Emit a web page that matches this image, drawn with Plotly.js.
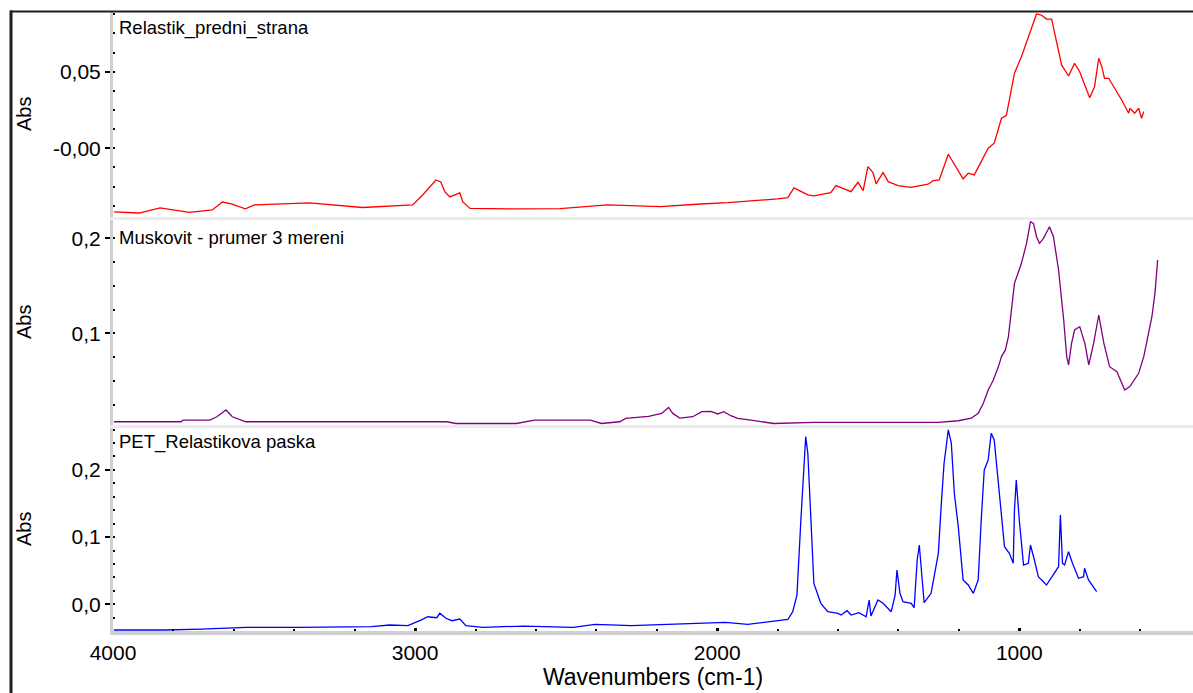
<!DOCTYPE html>
<html>
<head>
<meta charset="utf-8">
<script src="https://cdn.plot.ly/plotly-3.0.1.min.js"></script>
<style>html,body{margin:0;padding:0;background:#fff;}#chart{width:1193px;height:693px;}</style>
</head>
<body>
<div id="chart"></div>
<script>
// ---- Data ----
const seriesNames = ["Relastik_predni_strana", "Muskovit - prumer 3 mereni", "PET_Relastikova paska"];

const redWn = [3997,3914,3844,3748,3671,3638,3608,3562,3532,3349,3174,3008,2975,2951,2931,2915,2901,2885,2862,2852,2842,2818,2653,2520,2364,2188,2055,1965,1800,1766,1746,1700,1680,1624,1607,1580,1557,1534,1517,1501,1484,1474,1451,1434,1401,1358,1302,1285,1265,1235,1215,1186,1169,1149,1103,1083,1059,1043,1033,1016,993,960,943,927,910,893,883,860,837,817,800,767,751,737,727,718,704,684,661,638,634,618,605,595,588];
const redAbs = [-0.0416,-0.0423,-0.0390,-0.0419,-0.0403,-0.0351,-0.0364,-0.0396,-0.0370,-0.0357,-0.0387,-0.0370,-0.0305,-0.0253,-0.0207,-0.0220,-0.0285,-0.0318,-0.0298,-0.0292,-0.0351,-0.0393,-0.0396,-0.0394,-0.0370,-0.0381,-0.0364,-0.0355,-0.0331,-0.0323,-0.0259,-0.0305,-0.0311,-0.0290,-0.0244,-0.0266,-0.0283,-0.0222,-0.0277,-0.0120,-0.0161,-0.0233,-0.0159,-0.0218,-0.0244,-0.0255,-0.0235,-0.0212,-0.0207,-0.0039,-0.0103,-0.0200,-0.0163,-0.0174,0.0000,0.0033,0.0196,0.0213,0.0315,0.0490,0.0598,0.0773,0.0877,0.0870,0.0844,0.0844,0.0751,0.0544,0.0472,0.0555,0.0500,0.0330,0.0402,0.0588,0.0533,0.0457,0.0457,0.0392,0.0315,0.0229,0.0261,0.0229,0.0261,0.0196,0.0239];

const purpleWn = [3997,3775,3768,3679,3656,3626,3605,3565,3560,2895,2865,2665,2605,2420,2383,2323,2303,2227,2184,2161,2147,2124,2081,2051,2021,1998,1978,1955,1932,1889,1813,1680,1268,1202,1159,1136,1119,1103,1086,1069,1059,1046,1036,1026,1016,993,976,963,953,943,933,920,900,887,870,853,843,837,827,817,800,783,770,754,737,720,701,677,651,634,605,588,561,551,542];
const purpleAbs = [0.0069,0.0069,0.0087,0.0087,0.0122,0.0193,0.0122,0.0077,0.0069,0.0069,0.0051,0.0051,0.0087,0.0087,0.0051,0.0069,0.0104,0.0125,0.0157,0.0220,0.0157,0.0108,0.0122,0.0175,0.0179,0.0151,0.0175,0.0133,0.0104,0.0087,0.0051,0.0063,0.0063,0.0080,0.0106,0.0159,0.0264,0.0404,0.0509,0.0650,0.0755,0.0825,0.0965,0.1245,0.1526,0.1737,0.1947,0.2175,0.2158,0.2017,0.1947,0.2000,0.2122,0.2017,0.1667,0.1140,0.0754,0.0667,0.0895,0.1035,0.1070,0.0895,0.0667,0.0895,0.1193,0.0895,0.0649,0.0596,0.0404,0.0439,0.0579,0.0754,0.1175,0.1421,0.1772];

const blueWn = [3997,3824,3708,3559,3383,3144,3084,3024,2981,2958,2928,2918,2898,2878,2852,2832,2775,2639,2477,2404,2284,2121,1972,1899,1826,1766,1750,1736,1723,1713,1707,1700,1690,1680,1657,1634,1600,1590,1570,1557,1531,1507,1497,1491,1468,1451,1424,1411,1405,1395,1385,1358,1348,1338,1331,1325,1315,1292,1268,1258,1249,1235,1225,1215,1202,1186,1169,1152,1136,1126,1116,1103,1093,1083,1069,1059,1049,1033,1020,1016,1010,1000,986,970,963,950,937,910,893,870,864,857,850,837,824,804,787,784,771,744];
const blueAbs = [-0.0382,-0.0382,-0.0368,-0.0342,-0.0342,-0.0333,-0.0308,-0.0318,-0.0234,-0.0185,-0.0199,-0.0134,-0.0208,-0.0244,-0.0219,-0.0318,-0.0342,-0.0323,-0.0342,-0.0298,-0.0318,-0.0293,-0.0268,-0.0298,-0.0259,-0.0226,-0.0110,0.0138,0.1254,0.1998,0.2494,0.2247,0.1254,0.0312,0.0015,-0.0110,-0.0134,-0.0159,-0.0095,-0.0159,-0.0125,-0.0185,0.0064,-0.0174,0.0064,0.0015,-0.0110,0.0138,0.0510,0.0164,0.0039,0.0015,-0.0051,0.0659,0.0882,0.0510,0.0024,0.0164,0.0759,0.1503,0.2098,0.2594,0.2396,0.1652,0.1155,0.0362,0.0287,0.0164,0.0362,0.1254,0.1998,0.2147,0.2545,0.2445,0.1750,0.1254,0.0857,0.0759,0.0610,0.1403,0.1850,0.1254,0.0585,0.0610,0.0882,0.0659,0.0411,0.0287,0.0411,0.0560,0.1329,0.0610,0.0585,0.0783,0.0610,0.0387,0.0411,0.0536,0.0362,0.0187];

const xTickVals = [4000, 3000, 2000, 1000];
const xTickText = ["4000", "3000", "2000", "1000"];
const topTickVals = [0.05, 0.0];
const topTickText = ["0,05", "-0,00"];
const midTickVals = [0.2, 0.1];
const midTickText = ["0,2", "0,1"];
const botTickVals = [0.2, 0.1, 0.0];
const botTickText = ["0,2", "0,1", "0,0"];
const xTitle = "Wavenumbers (cm-1)";
const yTitle = "Abs";

// ---- Layout helpers ----
const FONT = "Liberation Sans, Arial, Helvetica, sans-serif";
const W = 1193, H = 693;
const ML = 113, MR = 0, MT = 12, MB = 62;
const PW = W - ML - MR, PH = H - MT - MB;
const px2x = p => (p - ML) / PW;          // pixel -> paper x
const py2y = p => (H - MB - p) / PH;      // pixel -> paper y

const yAxisCommon = {
  showline: true, linecolor: "#d0d0d0", linewidth: 3,
  ticks: "outside", ticklen: 5, tickwidth: 2, tickcolor: "#000",
  showgrid: false, zeroline: false,
  tickfont: {family: FONT, size: 21, color: "#000"},
  tickmode: "array", fixedrange: true
};

const traces = [
  {x: redWn, y: redAbs, xaxis: "x3", yaxis: "y3", name: seriesNames[0], type: "scatter", mode: "lines",
   line: {color: "#ff0000", width: 1.3}},
  {x: purpleWn, y: purpleAbs, xaxis: "x2", yaxis: "y2", name: seriesNames[1], type: "scatter", mode: "lines",
   line: {color: "#800080", width: 1.3}},
  {x: blueWn, y: blueAbs, xaxis: "x", yaxis: "y", name: seriesNames[2], type: "scatter", mode: "lines",
   line: {color: "#0000ff", width: 1.3}}
];

const layout = {
  width: W, height: H,
  margin: {l: ML, r: MR, t: MT, b: MB, pad: 0},
  paper_bgcolor: "#ffffff", plot_bgcolor: "#ffffff",
  showlegend: false,
  font: {family: FONT, size: 18, color: "#000"},
  xaxis: {
    domain: [0, 1], anchor: "y", range: [4000, 425],
    tickmode: "array", tickvals: xTickVals, ticktext: xTickText,
    ticks: "inside", ticklen: 3, tickwidth: 3, tickcolor: "#000",
    showline: true, linecolor: "#d0d0d0", linewidth: 4,
    showgrid: false, zeroline: false,
    tickfont: {family: FONT, size: 21, color: "#000"},
    minor: {dtick: 200, tick0: 0, ticks: "inside", ticklen: 2, tickwidth: 2, tickcolor: "#000", showgrid: false},
    title: {text: xTitle, font: {family: FONT, size: 23, color: "#000"}, standoff: 6},
    automargin: false, fixedrange: true
  },
  xaxis2: {domain: [0, 1], anchor: "y2", matches: "x", range: [4000, 425], showticklabels: false, ticks: "",
    showline: true, linecolor: "#ececec", linewidth: 3, showgrid: false, zeroline: false},
  xaxis3: {domain: [0, 1], anchor: "y3", matches: "x", range: [4000, 425], showticklabels: false, ticks: "",
    showline: true, linecolor: "#ececec", linewidth: 3, showgrid: false, zeroline: false},
  yaxis: Object.assign({}, yAxisCommon, {
    domain: [0, py2y(428)], anchor: "x", range: [-0.0397, 0.2623],
    tickvals: botTickVals, ticktext: botTickText,
    minor: {dtick: 0.02, tick0: 0, ticks: "inside", ticklen: 2, tickwidth: 2, tickcolor: "#000", showgrid: false}
  }),
  yaxis2: Object.assign({}, yAxisCommon, {
    domain: [py2y(425), py2y(220)], anchor: "x2", range: [0.0035, 0.2193],
    tickvals: midTickVals, ticktext: midTickText,
    minor: {dtick: 0.025, tick0: 0, ticks: "inside", ticklen: 2, tickwidth: 2, tickcolor: "#000", showgrid: false}
  }),
  yaxis3: Object.assign({}, yAxisCommon, {
    domain: [py2y(217), 1], anchor: "x3", range: [-0.0449, 0.0890],
    tickvals: topTickVals, ticktext: topTickText,
    minor: {dtick: 0.0125, tick0: 0, ticks: "inside", ticklen: 2, tickwidth: 2, tickcolor: "#000", showgrid: false}
  }),
  annotations: [
    {text: seriesNames[0], xref: "paper", yref: "paper", x: px2x(117), y: py2y(28), xanchor: "left", yanchor: "middle",
     showarrow: false, font: {family: FONT, size: 18.5, color: "#000"}},
    {text: seriesNames[1], xref: "paper", yref: "paper", x: px2x(117), y: py2y(237), xanchor: "left", yanchor: "middle",
     showarrow: false, font: {family: FONT, size: 18.5, color: "#000"}},
    {text: seriesNames[2], xref: "paper", yref: "paper", x: px2x(117), y: py2y(442), xanchor: "left", yanchor: "middle",
     showarrow: false, font: {family: FONT, size: 18.5, color: "#000"}},
    {text: yTitle, xref: "paper", yref: "paper", x: px2x(23.5), y: py2y(114.5), xanchor: "center", yanchor: "middle",
     textangle: -90, showarrow: false, font: {family: FONT, size: 20, color: "#000"}},
    {text: yTitle, xref: "paper", yref: "paper", x: px2x(23.5), y: py2y(322.5), xanchor: "center", yanchor: "middle",
     textangle: -90, showarrow: false, font: {family: FONT, size: 20, color: "#000"}},
    {text: yTitle, xref: "paper", yref: "paper", x: px2x(23.5), y: py2y(529.5), xanchor: "center", yanchor: "middle",
     textangle: -90, showarrow: false, font: {family: FONT, size: 20, color: "#000"}}
  ],
  shapes: [
    {type: "line", xref: "paper", yref: "paper", x0: px2x(11), x1: px2x(11), y0: py2y(700), y1: py2y(10.5),
     line: {color: "#1e1e1e", width: 3}},
    {type: "line", xref: "paper", yref: "paper", x0: px2x(10), x1: px2x(1200), y0: py2y(11.5), y1: py2y(11.5),
     line: {color: "#1e1e1e", width: 2}}
  ]
};

Plotly.newPlot("chart", traces, layout, {displayModeBar: false, staticPlot: true});
</script>
</body>
</html>
